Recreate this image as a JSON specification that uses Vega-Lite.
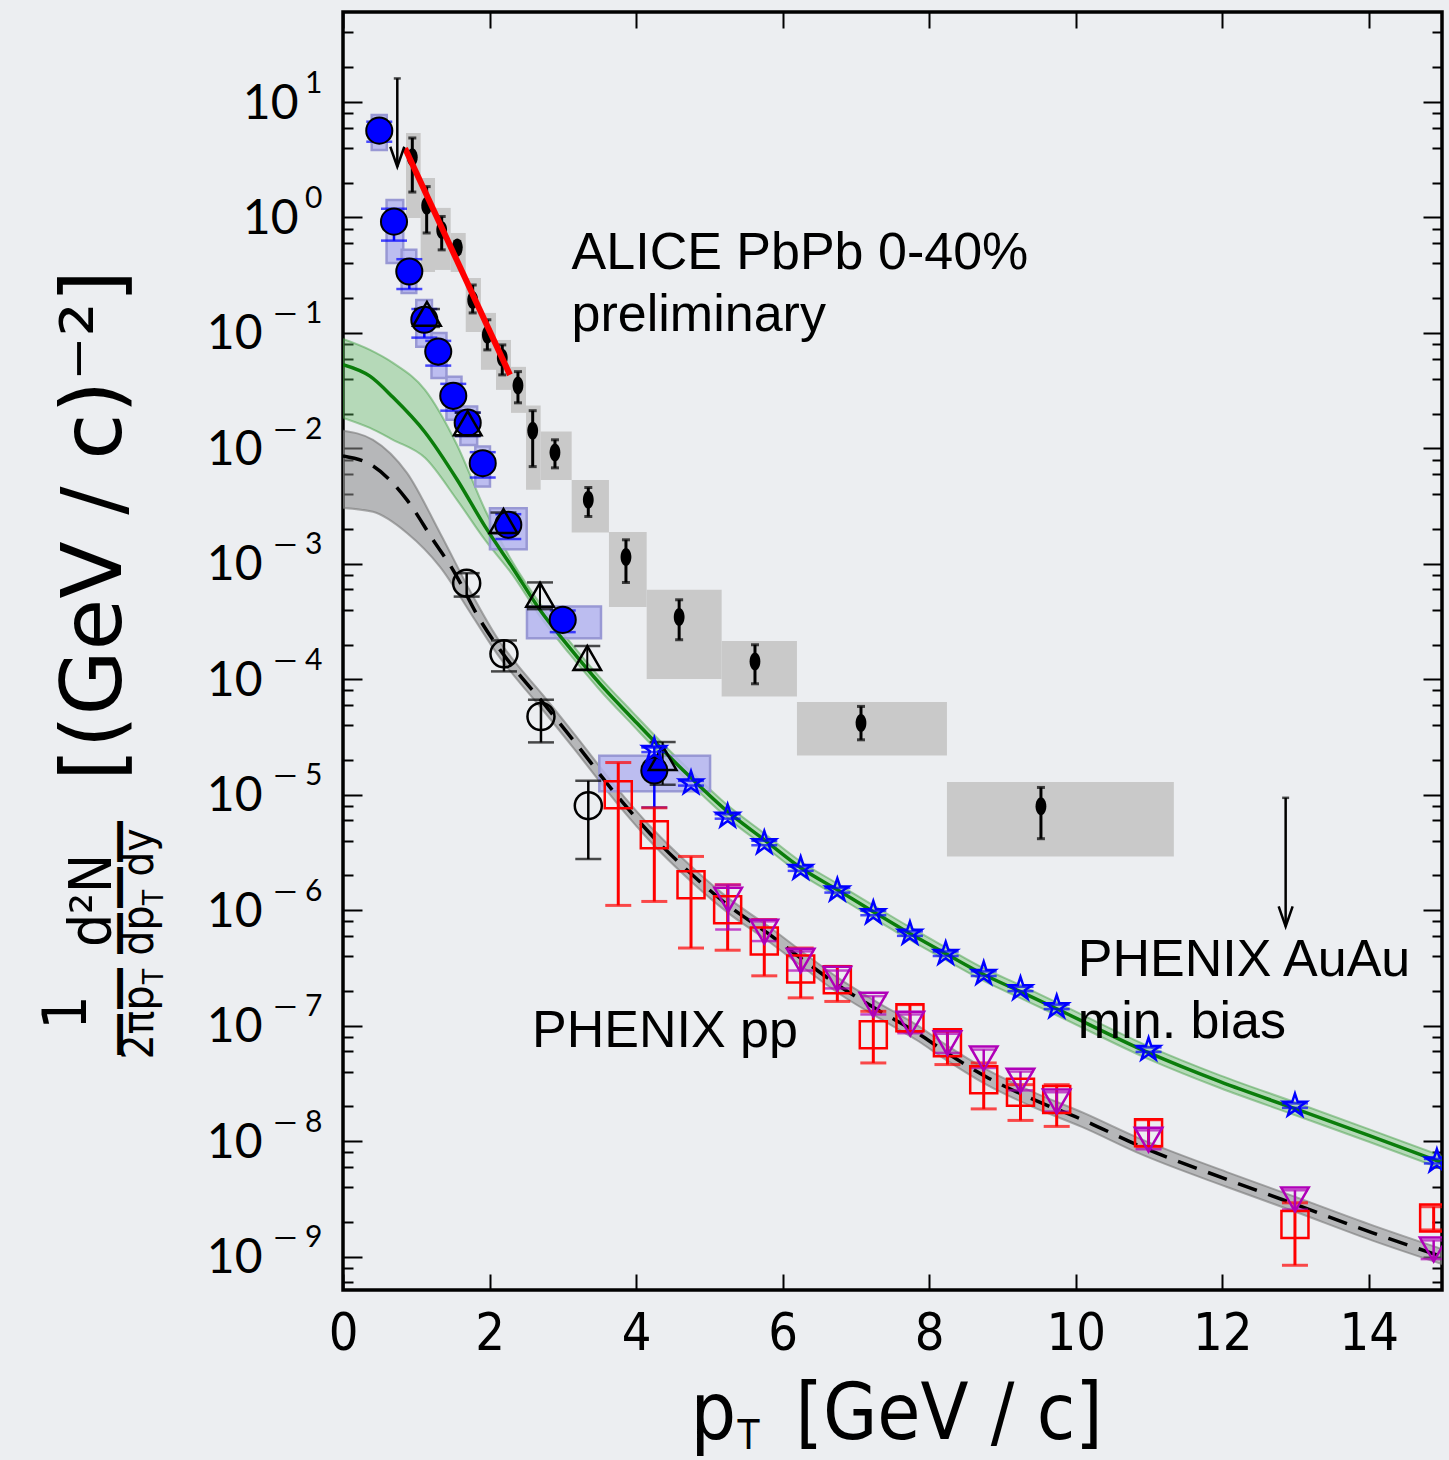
{
"$schema": "https://vega.github.io/schema/vega-lite/v6.json",
"width": 1099, "height": 1278,
"autosize": {"type": "none"},
"padding": {"left": 343, "top": 12, "right": 7, "bottom": 170},
"background": "#eceef1",
"config": {"view": {"stroke": "black", "strokeWidth": 3.5}, "axis": {"grid": false}},
"resolve": {"axis": {"x": "independent", "y": "independent"}},
"datasets": {
"aliceBox": [
{"x":0.86,"x2":1.06,"y":5.4,"y2":0.99},{"x":1.06,"x2":1.256,"y":2.2,"y2":0.337},{"x":1.256,"x2":1.47,"y":1.21,"y2":0.351},{"x":1.47,"x2":1.675,"y":0.734,"y2":0.337},{"x":1.675,"x2":1.883,"y":0.299,"y2":0.102},{"x":1.883,"x2":2.088,"y":0.149,"y2":0.0479},{"x":2.088,"x2":2.293,"y":0.0869,"y2":0.0321},{"x":2.293,"x2":2.498,"y":0.0508,"y2":0.0203},{"x":2.498,"x2":2.698,"y":0.0235,"y2":0.00438},{"x":2.698,"x2":3.121,"y":0.01397,"y2":0.00533},{"x":3.121,"x2":3.63,"y":0.00533,"y2":0.001866},{"x":3.63,"x2":4.145,"y":0.001883,"y2":0.000422},{"x":4.145,"x2":5.168,"y":0.000596,"y2":0.0001005},{"x":5.168,"x2":6.196,"y":0.000215,"y2":0.000071},{"x":6.196,"x2":8.243,"y":0.0000635,"y2":0.0000219},{"x":8.243,"x2":11.34,"y":0.0000129,"y2":0.00000292}],
"alice": [
{"x":0.946,"y":3.32,"lo":1.66,"hi":4.88},{"x":1.142,"y":1.26,"lo":0.734,"hi":1.85},{"x":1.347,"y":0.78,"lo":0.524,"hi":1.02},{"x":1.56,"y":0.548,"lo":0.49,"hi":0.62},{"x":1.77,"y":0.193,"lo":0.149,"hi":0.26},{"x":1.97,"y":0.0962,"lo":0.0713,"hi":0.13},{"x":2.174,"y":0.0608,"lo":0.0433,"hi":0.0787},{"x":2.388,"y":0.0351,"lo":0.0248,"hi":0.0462},{"x":2.589,"y":0.0142,"lo":0.00695,"hi":0.0212},{"x":2.893,"y":0.0092,"lo":0.00678,"hi":0.01186},{"x":3.348,"y":0.00358,"lo":0.00257,"hi":0.00458},{"x":3.862,"y":0.001143,"lo":0.000689,"hi":0.001614},{"x":4.588,"y":0.000346,"lo":0.00022,"hi":0.000488},{"x":5.623,"y":0.0001426,"lo":0.0000914,"hi":0.000199},{"x":7.07,"y":0.0000418,"lo":0.0000299,"hi":0.0000582},{"x":9.526,"y":0.00000793,"lo":0.00000416,"hi":0.00001156}],
"blueBox": [
{"x":0.392,"x2":0.597,"y":7.71,"y2":3.84},{"x":0.595,"x2":0.822,"y":1.42,"y2":0.404},{"x":0.8,"x2":1.0,"y":0.524,"y2":0.222},{"x":1.0,"x2":1.214,"y":0.193,"y2":0.076},{"x":1.208,"x2":1.412,"y":0.1,"y2":0.0407},{"x":1.412,"x2":1.617,"y":0.0418,"y2":0.0177},{"x":1.603,"x2":1.831,"y":0.023,"y2":0.0107},{"x":1.806,"x2":2.006,"y":0.01037,"y2":0.00467},{"x":2.006,"x2":2.507,"y":0.00303,"y2":0.00134},{"x":2.511,"x2":3.521,"y":0.000427,"y2":0.000227},{"x":3.498,"x2":5.01,"y":0.0000218,"y2":0.0000107}],
"blue": [
{"x":0.495,"y":5.65,"lo":4.53,"hi":6.75},{"x":0.696,"y":0.92,"lo":0.63,"hi":1.19},{"x":0.905,"y":0.34,"lo":0.24,"hi":0.435},{"x":1.11,"y":0.13,"lo":0.091,"hi":0.161},{"x":1.3,"y":0.0689,"lo":0.0521,"hi":0.0853},{"x":1.505,"y":0.0285,"lo":0.0212,"hi":0.0362},{"x":1.702,"y":0.0167,"lo":0.0128,"hi":0.0204},{"x":1.907,"y":0.00744,"lo":0.00559,"hi":0.00927},{"x":2.256,"y":0.00218,"lo":0.00164,"hi":0.00269},{"x":2.999,"y":0.000327,"lo":0.000256,"hi":0.000394},{"x":4.249,"y":0.0000162,"lo":0.00000776,"hi":0.0000262}],
"tri": [
{"x":1.146,"y":0.146,"lo":0.1127,"hi":0.161},{"x":1.702,"y":0.0165,"lo":0.0128,"hi":0.0204},{"x":2.19,"y":0.00235,"lo":0.001845,"hi":0.00278},{"x":2.689,"y":0.00054,"lo":0.000405,"hi":0.00069},{"x":3.334,"y":0.000153,"lo":0.000121,"hi":0.000194},{"x":4.363,"y":0.0000208,"lo":0.0000122,"hi":0.0000286}],
"ocirc": [
{"x":1.688,"y":0.00068,"lo":0.00052,"hi":0.00083},{"x":2.197,"y":0.000166,"lo":0.000117,"hi":0.000217},{"x":2.702,"y":0.0000476,"lo":0.0000284,"hi":0.0000665},{"x":3.348,"y":0.00000804,"lo":0.00000277,"hi":0.0000132}],
"sq": [
{"x":3.757,"y":1.0e-5,"lo":1.1e-6,"hi":1.9e-5},{"x":4.249,"y":4.5e-6,"lo":1.19e-6,"hi":7.7e-6},{"x":4.75,"y":1.66e-6,"lo":4.7e-7,"hi":2.92e-6},{"x":5.25,"y":1.01e-6,"lo":4.5e-7,"hi":1.66e-6},{"x":5.75,"y":5.4e-7,"lo":2.7e-7,"hi":8.3e-7},{"x":6.247,"y":3.1e-7,"lo":1.74e-7,"hi":4.7e-7},{"x":6.747,"y":2.5e-7,"lo":1.62e-7,"hi":3.26e-7},{"x":7.238,"y":8.35e-8,"lo":4.75e-8,"hi":1.33e-7},{"x":7.738,"y":1.17e-7,"lo":8.9e-8,"hi":1.52e-7},{"x":8.25,"y":7.1e-8,"lo":4.6e-8,"hi":8.9e-8},{"x":8.745,"y":3.4e-8,"lo":1.9e-8,"hi":4.75e-8},{"x":9.247,"y":2.65e-8,"lo":1.51e-8,"hi":3.08e-8},{"x":9.741,"y":2.29e-8,"lo":1.34e-8,"hi":3.08e-8},{"x":10.995,"y":1.18e-8,"lo":9.0e-9,"hi":1.53e-8},{"x":12.993,"y":1.89e-9,"lo":8.4e-10,"hi":2.92e-9},{"x":14.886,"y":2.16e-9,"lo":1.7e-9,"hi":2.7e-9}],
"mag": [
{"x":5.257,"y":1.23e-6,"lo":6.8e-7,"hi":1.66e-6},{"x":5.75,"y":6.5e-7,"lo":5.4e-7,"hi":8.0e-7},{"x":6.247,"y":3.66e-7,"lo":3.0e-7,"hi":4.4e-7},{"x":6.747,"y":2.55e-7,"lo":2.1e-7,"hi":3.0e-7},{"x":7.238,"y":1.52e-7,"lo":1.25e-7,"hi":1.8e-7},{"x":7.743,"y":1.04e-7,"lo":8.6e-8,"hi":1.25e-7},{"x":8.25,"y":7.05e-8,"lo":5.8e-8,"hi":8.5e-8},{"x":8.745,"y":5.2e-8,"lo":4.3e-8,"hi":6.2e-8},{"x":9.247,"y":3.34e-8,"lo":2.75e-8,"hi":4.0e-8},{"x":9.741,"y":2.2e-8,"lo":1.8e-8,"hi":2.65e-8},{"x":10.995,"y":1.03e-8,"lo":8.5e-9,"hi":1.24e-8},{"x":12.993,"y":3.12e-9,"lo":2.55e-9,"hi":3.75e-9},{"x":14.886,"y":1.15e-9,"lo":9.5e-10,"hi":1.38e-9}],
"star": [
{"x":4.249,"y":2.45e-5,"lo":2.34e-5,"hi":2.56e-5},{"x":4.75,"y":1.26e-5,"lo":1.2e-5,"hi":1.32e-5},{"x":5.25,"y":6.49e-6,"lo":6.2e-6,"hi":6.78e-6},{"x":5.75,"y":3.82e-6,"lo":3.65e-6,"hi":3.99e-6},{"x":6.247,"y":2.29e-6,"lo":2.19e-6,"hi":2.39e-6},{"x":6.747,"y":1.49e-6,"lo":1.42e-6,"hi":1.56e-6},{"x":7.238,"y":9.46e-7,"lo":9.04e-7,"hi":9.88e-7},{"x":7.738,"y":6.27e-7,"lo":5.99e-7,"hi":6.55e-7},{"x":8.226,"y":4.2e-7,"lo":4.01e-7,"hi":4.39e-7},{"x":8.745,"y":2.82e-7,"lo":2.69e-7,"hi":2.95e-7},{"x":9.247,"y":2.08e-7,"lo":1.99e-7,"hi":2.17e-7},{"x":9.741,"y":1.45e-7,"lo":1.39e-7,"hi":1.52e-7},{"x":10.995,"y":6.2e-8,"lo":5.92e-8,"hi":6.48e-8},{"x":12.993,"y":2.03e-8,"lo":1.94e-8,"hi":2.12e-8},{"x":14.93,"y":6.7e-9,"lo":6.4e-9,"hi":7.0e-9}],
"green": [
{"x":0,"y":0.0531},{"x":0.368,"y":0.0422},{"x":0.682,"y":0.02767},{"x":1.119,"y":0.0138},{"x":1.556,"y":0.00537},{"x":1.938,"y":0.00211},{"x":2.32,"y":0.000912},{"x":2.689,"y":0.000398},{"x":3.098,"y":0.000186},{"x":3.508,"y":0.0000912},{"x":3.958,"y":0.0000453},{"x":4.422,"y":0.0000224},{"x":4.75,"y":0.000014},{"x":5.25,"y":7.13e-6},{"x":5.75,"y":4.07e-6},{"x":6.247,"y":2.33e-6},{"x":6.747,"y":1.5e-6},{"x":7.238,"y":9.7e-7},{"x":7.738,"y":6.27e-7},{"x":8.25,"y":4.12e-7},{"x":8.745,"y":2.77e-7},{"x":9.247,"y":1.97e-7},{"x":9.741,"y":1.4e-7},{"x":10.995,"y":5.83e-8},{"x":11.97,"y":3.27e-8},{"x":12.993,"y":1.91e-8},{"x":14.0,"y":1.12e-8},{"x":15,"y":6.52e-9}],
"greenBand": [
{"x":0,"lo":0.01837,"hi":0.0887},{"x":0.368,"lo":0.01503,"hi":0.0713},{"x":0.682,"lo":0.01186,"hi":0.055},{"x":1.119,"lo":0.00828,"hi":0.0321},{"x":1.556,"lo":0.00358,"hi":0.0107},{"x":1.938,"lo":0.00161,"hi":0.00294},{"x":2.32,"lo":0.000794,"hi":0.00102},{"x":2.689,"lo":0.00035,"hi":0.000452},{"x":3.098,"lo":0.000164,"hi":0.000211},{"x":3.508,"lo":0.0000803,"hi":0.0001035},{"x":3.958,"lo":0.0000399,"hi":0.0000514},{"x":4.422,"lo":0.0000197,"hi":0.0000254},{"x":4.75,"lo":0.00001232,"hi":0.0000159},{"x":5.25,"lo":6.27e-6,"hi":8.09e-6},{"x":5.75,"lo":3.58e-6,"hi":4.62e-6},{"x":6.247,"lo":2.05e-6,"hi":2.64e-6},{"x":6.747,"lo":1.32e-6,"hi":1.7e-6},{"x":7.238,"lo":8.54e-7,"hi":1.1e-6},{"x":7.738,"lo":5.52e-7,"hi":7.12e-7},{"x":8.25,"lo":3.63e-7,"hi":4.68e-7},{"x":8.745,"lo":2.44e-7,"hi":3.14e-7},{"x":9.247,"lo":1.73e-7,"hi":2.24e-7},{"x":9.741,"lo":1.23e-7,"hi":1.59e-7},{"x":10.995,"lo":5.13e-8,"hi":6.62e-8},{"x":11.97,"lo":2.88e-8,"hi":3.71e-8},{"x":12.993,"lo":1.68e-8,"hi":2.17e-8},{"x":14.0,"lo":9.86e-9,"hi":1.27e-8},{"x":15,"lo":5.74e-9,"hi":7.4e-9}],
"grey": [
{"x":0,"y":0.00861},{"x":0.409,"y":0.00705},{"x":0.873,"y":0.00358},{"x":1.228,"y":0.001614},{"x":1.501,"y":0.000887},{"x":1.87,"y":0.000327},{"x":2.143,"y":0.00018},{"x":2.32,"y":0.000128},{"x":2.73,"y":0.0000627},{"x":3.139,"y":0.0000299},{"x":3.74,"y":9.8e-6},{"x":4.231,"y":4.33e-6},{"x":4.736,"y":2.11e-6},{"x":5.282,"y":1.07e-6},{"x":5.787,"y":6.38e-7},{"x":6.278,"y":3.72e-7},{"x":6.783,"y":2.18e-7},{"x":7.288,"y":1.38e-7},{"x":7.834,"y":8.69e-8},{"x":8.216,"y":5.96e-8},{"x":8.776,"y":3.61e-8},{"x":9.39,"y":2.34e-8},{"x":10.093,"y":1.53e-8},{"x":10.891,"y":8.95e-9},{"x":12.065,"y":4.65e-9},{"x":13.007,"y":2.82e-9},{"x":14.044,"y":1.61e-9},{"x":15,"y":1.0e-9}],
"greyBand": [
{"x":0,"lo":0.00305,"hi":0.0142},{"x":0.409,"lo":0.00282,"hi":0.01186},{"x":0.873,"lo":0.00185,"hi":0.00613},{"x":1.324,"lo":0.000942,"hi":0.00185},{"x":1.774,"lo":0.000347,"hi":0.000525},{"x":2.143,"lo":0.000153,"hi":0.00021},{"x":2.32,"lo":0.00011,"hi":0.0001485},{"x":2.73,"lo":0.0000539,"hi":0.0000727},{"x":3.139,"lo":0.0000257,"hi":0.0000347},{"x":3.74,"lo":8.43e-6,"hi":0.00001137},{"x":4.231,"lo":3.72e-6,"hi":5.02e-6},{"x":4.736,"lo":1.81e-6,"hi":2.45e-6},{"x":5.282,"lo":9.2e-7,"hi":1.24e-6},{"x":5.787,"lo":5.49e-7,"hi":7.4e-7},{"x":6.278,"lo":3.2e-7,"hi":4.32e-7},{"x":6.783,"lo":1.87e-7,"hi":2.53e-7},{"x":7.288,"lo":1.19e-7,"hi":1.6e-7},{"x":7.834,"lo":7.47e-8,"hi":1.01e-7},{"x":8.216,"lo":5.13e-8,"hi":6.91e-8},{"x":8.776,"lo":3.1e-8,"hi":4.19e-8},{"x":9.39,"lo":2.01e-8,"hi":2.71e-8},{"x":10.093,"lo":1.32e-8,"hi":1.77e-8},{"x":10.891,"lo":7.7e-9,"hi":1.04e-8},{"x":12.065,"lo":4.0e-9,"hi":5.39e-9},{"x":13.007,"lo":2.43e-9,"hi":3.27e-9},{"x":14.044,"lo":1.38e-9,"hi":1.87e-9},{"x":15,"lo":8.6e-10,"hi":1.16e-9}],
"redline": [{"x":0.846,"y":3.97},{"x":2.279,"y":0.0433}],
"arrows": [{"x":0.741,"top":16.0,"tip":2.75},{"x":12.866,"top":9.4e-6,"tip":7.24e-7}],
"labels": [{"x":3.12,"y":0.493,"t":"ALICE PbPb 0-40%"},{"x":3.12,"y":0.143,"t":"preliminary"},{"x":2.58,"y":8.9e-8,"t":"PHENIX pp"},{"x":10.03,"y":3.72e-7,"t":"PHENIX AuAu"},{"x":10.03,"y":1.08e-7,"t":"min. bias"}]
},
"layer": [
{"data":{"name":"aliceBox"},"mark":{"type":"rect","color":"#c9c9c9","clip":true},
 "encoding":{"x":{"field":"x","type":"quantitative","scale":{"domain":[0,15],"nice":false,"zero":false},"axis":null},"x2":{"field":"x2"},
 "y":{"field":"y","type":"quantitative","scale":{"type":"log","domain":[5.13e-10,60.2],"nice":false},"axis":null},"y2":{"field":"y2"}}},
{"data":{"name":"greyBand"},"mark":{"type":"area","fill":"#8a8a8a","fillOpacity":0.55,"stroke":"#777777","strokeOpacity":0.6,"strokeWidth":2,"interpolate":"monotone","clip":true},
 "encoding":{"x":{"field":"x","type":"quantitative","scale":{"domain":[0,15],"nice":false,"zero":false},"axis":null},
 "y":{"field":"lo","type":"quantitative","scale":{"type":"log","domain":[5.13e-10,60.2],"nice":false},"axis":null},"y2":{"field":"hi"}}},
{"data":{"name":"greenBand"},"mark":{"type":"area","fill":"#5cb85c","fillOpacity":0.38,"stroke":"#3a9a3a","strokeOpacity":0.45,"strokeWidth":2,"interpolate":"monotone","clip":true},
 "encoding":{"x":{"field":"x","type":"quantitative","scale":{"domain":[0,15],"nice":false,"zero":false},"axis":null},
 "y":{"field":"lo","type":"quantitative","scale":{"type":"log","domain":[5.13e-10,60.2],"nice":false},"axis":null},"y2":{"field":"hi"}}},
{"data":{"name":"blueBox"},"mark":{"type":"rect","fill":"#b4b4f0","fillOpacity":0.85,"stroke":"#9898d4","strokeWidth":2.5,"clip":true},
 "encoding":{"x":{"field":"x","type":"quantitative","scale":{"domain":[0,15],"nice":false,"zero":false},"axis":null},"x2":{"field":"x2"},
 "y":{"field":"y","type":"quantitative","scale":{"type":"log","domain":[5.13e-10,60.2],"nice":false},"axis":null},"y2":{"field":"y2"}}},
{"data":{"name":"green"},"mark":{"type":"line","color":"#0b7d0b","strokeWidth":3.5,"interpolate":"monotone","clip":true},
 "encoding":{"x":{"field":"x","type":"quantitative","scale":{"domain":[0,15],"nice":false,"zero":false},"axis":null},
 "y":{"field":"y","type":"quantitative","scale":{"type":"log","domain":[5.13e-10,60.2],"nice":false},"axis":null}}},
{"data":{"name":"grey"},"mark":{"type":"line","color":"black","strokeWidth":3.5,"strokeDash":[20,12],"interpolate":"monotone","clip":true},
 "encoding":{"x":{"field":"x","type":"quantitative","scale":{"domain":[0,15],"nice":false,"zero":false},"axis":null},
 "y":{"field":"y","type":"quantitative","scale":{"type":"log","domain":[5.13e-10,60.2],"nice":false},"axis":null}}},

{"data":{"name":"alice"},"mark":{"type":"rule","color":"black","strokeWidth":3,"clip":true},
 "encoding":{"x":{"field":"x","type":"quantitative","scale":{"domain":[0,15],"nice":false,"zero":false},"axis":null},
 "y":{"field":"lo","type":"quantitative","scale":{"type":"log","domain":[5.13e-10,60.2],"nice":false},"axis":null},"y2":{"field":"hi"}}},
{"data":{"name":"alice"},"transform":[{"fold":["lo","hi"],"as":["k","v"]}],"mark":{"type":"tick","orient":"horizontal","color":"black","size":8,"thickness":3,"clip":true},
 "encoding":{"x":{"field":"x","type":"quantitative","scale":{"domain":[0,15],"nice":false,"zero":false},"axis":null},
 "y":{"field":"v","type":"quantitative","scale":{"type":"log","domain":[5.13e-10,60.2],"nice":false},"axis":null}}},
{"data":{"name":"alice"},"mark":{"type":"point","shape":"M0,-1A0.6,1 0 1,1 0,1A0.6,1 0 1,1 0,-1Z","filled":true,"color":"black","opacity":1,"size":324,"clip":true},
 "encoding":{"x":{"field":"x","type":"quantitative","scale":{"domain":[0,15],"nice":false,"zero":false},"axis":null},
 "y":{"field":"y","type":"quantitative","scale":{"type":"log","domain":[5.13e-10,60.2],"nice":false},"axis":null}}},

{"data":{"name":"blue"},"mark":{"type":"rule","color":"#0000ff","strokeWidth":2.5,"clip":true},
 "encoding":{"x":{"field":"x","type":"quantitative","scale":{"domain":[0,15],"nice":false,"zero":false},"axis":null},
 "y":{"field":"lo","type":"quantitative","scale":{"type":"log","domain":[5.13e-10,60.2],"nice":false},"axis":null},"y2":{"field":"hi"}}},
{"data":{"name":"blue"},"transform":[{"fold":["lo","hi"],"as":["k","v"]}],"mark":{"type":"tick","orient":"horizontal","color":"#0000ff","size":26,"thickness":2.5,"clip":true},
 "encoding":{"x":{"field":"x","type":"quantitative","scale":{"domain":[0,15],"nice":false,"zero":false},"axis":null},
 "y":{"field":"v","type":"quantitative","scale":{"type":"log","domain":[5.13e-10,60.2],"nice":false},"axis":null}}},

{"data":{"name":"tri"},"mark":{"type":"rule","color":"black","strokeWidth":2,"clip":true},
 "encoding":{"x":{"field":"x","type":"quantitative","scale":{"domain":[0,15],"nice":false,"zero":false},"axis":null},
 "y":{"field":"lo","type":"quantitative","scale":{"type":"log","domain":[5.13e-10,60.2],"nice":false},"axis":null},"y2":{"field":"hi"}}},
{"data":{"name":"tri"},"transform":[{"fold":["lo","hi"],"as":["k","v"]}],"mark":{"type":"tick","orient":"horizontal","color":"black","size":26,"thickness":2.5,"clip":true},
 "encoding":{"x":{"field":"x","type":"quantitative","scale":{"domain":[0,15],"nice":false,"zero":false},"axis":null},
 "y":{"field":"v","type":"quantitative","scale":{"type":"log","domain":[5.13e-10,60.2],"nice":false},"axis":null}}},

{"data":{"name":"ocirc"},"mark":{"type":"rule","color":"black","strokeWidth":2.5,"clip":true},
 "encoding":{"x":{"field":"x","type":"quantitative","scale":{"domain":[0,15],"nice":false,"zero":false},"axis":null},
 "y":{"field":"lo","type":"quantitative","scale":{"type":"log","domain":[5.13e-10,60.2],"nice":false},"axis":null},"y2":{"field":"hi"}}},
{"data":{"name":"ocirc"},"transform":[{"fold":["lo","hi"],"as":["k","v"]}],"mark":{"type":"tick","orient":"horizontal","color":"black","size":26,"thickness":2.5,"clip":true},
 "encoding":{"x":{"field":"x","type":"quantitative","scale":{"domain":[0,15],"nice":false,"zero":false},"axis":null},
 "y":{"field":"v","type":"quantitative","scale":{"type":"log","domain":[5.13e-10,60.2],"nice":false},"axis":null}}},

{"data":{"name":"sq"},"mark":{"type":"rule","color":"#ff0000","strokeWidth":3,"clip":true},
 "encoding":{"x":{"field":"x","type":"quantitative","scale":{"domain":[0,15],"nice":false,"zero":false},"axis":null},
 "y":{"field":"lo","type":"quantitative","scale":{"type":"log","domain":[5.13e-10,60.2],"nice":false},"axis":null},"y2":{"field":"hi"}}},
{"data":{"name":"sq"},"transform":[{"fold":["lo","hi"],"as":["k","v"]}],"mark":{"type":"tick","orient":"horizontal","color":"#ff0000","size":26,"thickness":3,"clip":true},
 "encoding":{"x":{"field":"x","type":"quantitative","scale":{"domain":[0,15],"nice":false,"zero":false},"axis":null},
 "y":{"field":"v","type":"quantitative","scale":{"type":"log","domain":[5.13e-10,60.2],"nice":false},"axis":null}}},

{"data":{"name":"mag"},"mark":{"type":"rule","color":"#b000b8","strokeWidth":2.5,"clip":true},
 "encoding":{"x":{"field":"x","type":"quantitative","scale":{"domain":[0,15],"nice":false,"zero":false},"axis":null},
 "y":{"field":"lo","type":"quantitative","scale":{"type":"log","domain":[5.13e-10,60.2],"nice":false},"axis":null},"y2":{"field":"hi"}}},
{"data":{"name":"mag"},"transform":[{"fold":["lo","hi"],"as":["k","v"]}],"mark":{"type":"tick","orient":"horizontal","color":"#b000b8","size":26,"thickness":2.5,"clip":true},
 "encoding":{"x":{"field":"x","type":"quantitative","scale":{"domain":[0,15],"nice":false,"zero":false},"axis":null},
 "y":{"field":"v","type":"quantitative","scale":{"type":"log","domain":[5.13e-10,60.2],"nice":false},"axis":null}}},

{"data":{"name":"star"},"transform":[{"fold":["lo","hi"],"as":["k","v"]}],"mark":{"type":"tick","orient":"horizontal","color":"#0000ff","size":26,"thickness":2.5,"clip":true},
 "encoding":{"x":{"field":"x","type":"quantitative","scale":{"domain":[0,15],"nice":false,"zero":false},"axis":null},
 "y":{"field":"v","type":"quantitative","scale":{"type":"log","domain":[5.13e-10,60.2],"nice":false},"axis":null}}},

{"data":{"name":"blue"},"mark":{"type":"point","shape":"circle","filled":true,"fill":"#0000ff","stroke":"black","strokeWidth":2,"opacity":1,"size":680,"clip":true},
 "encoding":{"x":{"field":"x","type":"quantitative","scale":{"domain":[0,15],"nice":false,"zero":false},"axis":null},
 "y":{"field":"y","type":"quantitative","scale":{"type":"log","domain":[5.13e-10,60.2],"nice":false},"axis":null}}},
{"data":{"name":"tri"},"mark":{"type":"point","shape":"triangle-up","filled":false,"stroke":"black","strokeWidth":2.5,"opacity":1,"size":760,"clip":true},
 "encoding":{"x":{"field":"x","type":"quantitative","scale":{"domain":[0,15],"nice":false,"zero":false},"axis":null},
 "y":{"field":"y","type":"quantitative","scale":{"type":"log","domain":[5.13e-10,60.2],"nice":false},"axis":null}}},
{"data":{"name":"ocirc"},"mark":{"type":"point","shape":"circle","filled":false,"stroke":"black","strokeWidth":2.5,"opacity":1,"size":730,"clip":true},
 "encoding":{"x":{"field":"x","type":"quantitative","scale":{"domain":[0,15],"nice":false,"zero":false},"axis":null},
 "y":{"field":"y","type":"quantitative","scale":{"type":"log","domain":[5.13e-10,60.2],"nice":false},"axis":null}}},
{"data":{"name":"sq"},"mark":{"type":"point","shape":"square","filled":false,"stroke":"#ff0000","strokeWidth":2.5,"opacity":1,"size":730,"clip":true},
 "encoding":{"x":{"field":"x","type":"quantitative","scale":{"domain":[0,15],"nice":false,"zero":false},"axis":null},
 "y":{"field":"y","type":"quantitative","scale":{"type":"log","domain":[5.13e-10,60.2],"nice":false},"axis":null}}},
{"data":{"name":"mag"},"mark":{"type":"point","shape":"triangle-down","filled":false,"stroke":"#b000b8","strokeWidth":2.5,"opacity":1,"size":760,"clip":true},
 "encoding":{"x":{"field":"x","type":"quantitative","scale":{"domain":[0,15],"nice":false,"zero":false},"axis":null},
 "y":{"field":"y","type":"quantitative","scale":{"type":"log","domain":[5.13e-10,60.2],"nice":false},"axis":null}}},
{"data":{"name":"star"},"mark":{"type":"point","shape":"M0,-1L0.2245,-0.309L0.951,-0.309L0.363,0.118L0.588,0.809L0,0.382L-0.588,0.809L-0.363,0.118L-0.951,-0.309L-0.2245,-0.309Z","filled":false,"stroke":"#0000ff","strokeWidth":2.5,"opacity":1,"size":576,"clip":true},
 "encoding":{"x":{"field":"x","type":"quantitative","scale":{"domain":[0,15],"nice":false,"zero":false},"axis":null},
 "y":{"field":"y","type":"quantitative","scale":{"type":"log","domain":[5.13e-10,60.2],"nice":false},"axis":null}}},

{"data":{"name":"redline"},"mark":{"type":"line","color":"#ff0000","strokeWidth":6,"clip":true},
 "encoding":{"x":{"field":"x","type":"quantitative","scale":{"domain":[0,15],"nice":false,"zero":false},"axis":null},
 "y":{"field":"y","type":"quantitative","scale":{"type":"log","domain":[5.13e-10,60.2],"nice":false},"axis":null}}},

{"data":{"name":"arrows"},"mark":{"type":"rule","color":"black","strokeWidth":2.5},
 "encoding":{"x":{"field":"x","type":"quantitative","scale":{"domain":[0,15],"nice":false,"zero":false},"axis":null},
 "y":{"field":"top","type":"quantitative","scale":{"type":"log","domain":[5.13e-10,60.2],"nice":false},"axis":null},"y2":{"field":"tip"}}},
{"data":{"name":"arrows"},"mark":{"type":"tick","orient":"horizontal","color":"black","size":7,"thickness":2.5},
 "encoding":{"x":{"field":"x","type":"quantitative","scale":{"domain":[0,15],"nice":false,"zero":false},"axis":null},
 "y":{"field":"top","type":"quantitative","scale":{"type":"log","domain":[5.13e-10,60.2],"nice":false},"axis":null}}},
{"data":{"name":"arrows"},"mark":{"type":"point","shape":"M-0.35,-1L0,0L0.35,-1","filled":false,"stroke":"black","strokeWidth":2.5,"opacity":1,"size":1600},
 "encoding":{"x":{"field":"x","type":"quantitative","scale":{"domain":[0,15],"nice":false,"zero":false},"axis":null},
 "y":{"field":"tip","type":"quantitative","scale":{"type":"log","domain":[5.13e-10,60.2],"nice":false},"axis":null}}},

{"data":{"name":"labels"},"mark":{"type":"text","align":"left","baseline":"middle","font":"Liberation Sans","fontSize":52,"color":"black"},
 "encoding":{"x":{"field":"x","type":"quantitative","scale":{"domain":[0,15],"nice":false,"zero":false},"axis":null},
 "y":{"field":"y","type":"quantitative","scale":{"type":"log","domain":[5.13e-10,60.2],"nice":false},"axis":null},"text":{"field":"t"}}},

{"data":{"name":"redline"},"mark":{"type":"point","opacity":0},
 "encoding":{"x":{"field":"x","type":"quantitative","scale":{"domain":[0,15],"nice":false,"zero":false},
   "axis":{"orient":"bottom","values":[0,2,4,6,8,10,12,14],"format":"d","ticks":false,"tickSize":0,"domain":false,"grid":false,"labelFont":"DejaVu Sans Condensed","labelFontSize":52,"labelColor":"black","labelPadding":18,"labelFlush":false,"labelOverlap":false,
   "title":"[GeV / c]","titleFont":"DejaVu Sans Condensed","titleFontSize":78,"titleFontWeight":"normal","titleColor":"black","titleAngle":0,"titleAlign":"left","titleBaseline":"alphabetic","titleX":452,"titleY":148}},
 "y":{"field":"y","type":"quantitative","scale":{"type":"log","domain":[5.13e-10,60.2],"nice":false},
   "axis":{"orient":"left","values":[1e-9,1e-8,1e-7,1e-6,1e-5,1e-4,0.001,0.01,0.1,1,10],"labelExpr":"'10'","ticks":false,"tickSize":0,"domain":false,"grid":false,"labelFont":"Lato","labelFontSize":48,"labelColor":"black","labelAlign":"right","labelBaseline":"middle","labelOffset":2,"labelPadding":{"condition":{"test":"datum.value >= 1","value":45},"value":81},"labelFlush":false,"labelOverlap":false,"title":null}}}},

{"data":{"name":"redline"},"mark":{"type":"point","opacity":0},
 "encoding":{"x":{"field":"x","type":"quantitative","scale":{"domain":[0,15],"nice":false,"zero":false},
   "axis":{"orient":"bottom","values":[0,2,4,6,8,10,12,14],"labels":false,"ticks":true,"tickSize":-16,"tickWidth":2,"tickColor":"black","domain":false,"grid":false,
   "title":"p","titleFont":"DejaVu Sans Condensed","titleFontSize":80,"titleFontWeight":"normal","titleColor":"black","titleAngle":0,"titleAlign":"left","titleBaseline":"alphabetic","titleX":347,"titleY":148}},
 "y":{"field":"y","type":"quantitative","scale":{"type":"log","domain":[5.13e-10,60.2],"nice":false},
   "axis":{"orient":"left","values":[1e-9,1e-8,1e-7,1e-6,1e-5,1e-4,0.001,0.01,0.1,1,10],"labelExpr":"(datum.value < 1 ? '— ' : '') + abs(round(log(datum.value)/LN10))","ticks":false,"tickSize":0,"domain":false,"grid":false,"labelFont":"Lato","labelFontSize":30,"labelColor":"black","labelAlign":"right","labelBaseline":"middle","labelOffset":-19,"labelPadding":21,"labelFlush":false,"labelOverlap":false,"title":null}}}},

{"data":{"name":"redline"},"mark":{"type":"point","opacity":0},
 "encoding":{"x":{"field":"x","type":"quantitative","scale":{"domain":[0,15],"nice":false,"zero":false},
   "axis":{"orient":"top","values":[0,2,4,6,8,10,12,14],"labels":false,"ticks":true,"tickSize":-16,"tickWidth":2,"tickColor":"black","domain":false,"grid":false,"title":null}},
 "y":{"field":"y","type":"quantitative","scale":{"type":"log","domain":[5.13e-10,60.2],"nice":false},
   "axis":{"orient":"left","values":[6e-10,8e-10,1e-9,2e-9,4e-9,6e-9,8e-9,1e-8,2e-8,4e-8,6e-8,8e-8,1e-7,2e-7,4e-7,6e-7,8e-7,1e-6,2e-6,4e-6,6e-6,8e-6,1e-5,2e-5,4e-5,6e-5,8e-5,1e-4,2e-4,4e-4,6e-4,8e-4,0.001,0.002,0.004,0.006,0.008,0.01,0.02,0.04,0.06,0.08,0.1,0.2,0.4,0.6,0.8,1,2,4,6,8,10,20,40],
   "labels":false,"ticks":true,"tickSize":{"condition":{"test":"abs(log(datum.value)/LN10 - round(log(datum.value)/LN10)) < 0.01","value":-19},"value":-10},"tickWidth":2,"tickColor":"black","domain":false,"grid":false,"title":null}}}},

{"data":{"name":"redline"},"mark":{"type":"point","opacity":0},
 "encoding":{"x":{"field":"x","type":"quantitative","scale":{"domain":[0,15],"nice":false,"zero":false},
   "axis":{"orient":"bottom","labels":false,"ticks":false,"domain":false,"grid":false,
   "title":"T","titleFont":"DejaVu Sans Condensed","titleFontSize":40,"titleFontWeight":"normal","titleColor":"black","titleAngle":0,"titleAlign":"left","titleBaseline":"alphabetic","titleX":394,"titleY":158}},
 "y":{"field":"y","type":"quantitative","scale":{"type":"log","domain":[5.13e-10,60.2],"nice":false},
   "axis":{"orient":"right","values":[6e-10,8e-10,1e-9,2e-9,4e-9,6e-9,8e-9,1e-8,2e-8,4e-8,6e-8,8e-8,1e-7,2e-7,4e-7,6e-7,8e-7,1e-6,2e-6,4e-6,6e-6,8e-6,1e-5,2e-5,4e-5,6e-5,8e-5,1e-4,2e-4,4e-4,6e-4,8e-4,0.001,0.002,0.004,0.006,0.008,0.01,0.02,0.04,0.06,0.08,0.1,0.2,0.4,0.6,0.8,1,2,4,6,8,10,20,40],
   "labels":false,"ticks":true,"tickSize":{"condition":{"test":"abs(log(datum.value)/LN10 - round(log(datum.value)/LN10)) < 0.01","value":-19},"value":-10},"tickWidth":2,"tickColor":"black","domain":false,"grid":false,"title":null}}}},

{"data":{"name":"redline"},"mark":{"type":"point","opacity":0},
 "encoding":{"x":{"field":"x","type":"quantitative","scale":{"domain":[0,15],"nice":false,"zero":false},"axis":null},
 "y":{"field":"y","type":"quantitative","scale":{"type":"log","domain":[5.13e-10,60.2],"nice":false},
   "axis":{"orient":"left","labels":false,"ticks":false,"domain":false,"grid":false,"title":"1","titleFont":"DejaVu Sans Condensed","titleFontSize":60,"titleFontWeight":"normal","titleColor":"black","titleAngle":270,"titleAlign":"center","titleBaseline":"alphabetic","titleX":-258,"titleY":1000}}}},
{"data":{"name":"redline"},"mark":{"type":"point","opacity":0},
 "encoding":{"x":{"field":"x","type":"quantitative","scale":{"domain":[0,15],"nice":false,"zero":false},"axis":null},
 "y":{"field":"y","type":"quantitative","scale":{"type":"log","domain":[5.13e-10,60.2],"nice":false},
   "axis":{"orient":"left","labels":false,"ticks":false,"domain":false,"grid":false,"title":"——","titleFont":"DejaVu Sans","titleFontSize":46,"titleFontWeight":"bold","titleColor":"black","titleAngle":270,"titleAlign":"center","titleBaseline":"middle","titleX":-225,"titleY":999}}}},
{"data":{"name":"redline"},"mark":{"type":"point","opacity":0},
 "encoding":{"x":{"field":"x","type":"quantitative","scale":{"domain":[0,15],"nice":false,"zero":false},"axis":null},
 "y":{"field":"y","type":"quantitative","scale":{"type":"log","domain":[5.13e-10,60.2],"nice":false},
   "axis":{"orient":"left","labels":false,"ticks":false,"domain":false,"grid":false,"title":"2πp","titleFont":"DejaVu Sans Condensed","titleFontSize":44,"titleFontWeight":"normal","titleColor":"black","titleAngle":270,"titleAlign":"center","titleBaseline":"alphabetic","titleX":-191,"titleY":1010}}}},
{"data":{"name":"redline"},"mark":{"type":"point","opacity":0},
 "encoding":{"x":{"field":"x","type":"quantitative","scale":{"domain":[0,15],"nice":false,"zero":false},"axis":null},
 "y":{"field":"y","type":"quantitative","scale":{"type":"log","domain":[5.13e-10,60.2],"nice":false},
   "axis":{"orient":"left","labels":false,"ticks":false,"domain":false,"grid":false,"title":"T","titleFont":"DejaVu Sans Condensed","titleFontSize":28,"titleFontWeight":"normal","titleColor":"black","titleAngle":270,"titleAlign":"center","titleBaseline":"alphabetic","titleX":-181,"titleY":964}}}},
{"data":{"name":"redline"},"mark":{"type":"point","opacity":0},
 "encoding":{"x":{"field":"x","type":"quantitative","scale":{"domain":[0,15],"nice":false,"zero":false},"axis":null},
 "y":{"field":"y","type":"quantitative","scale":{"type":"log","domain":[5.13e-10,60.2],"nice":false},
   "axis":{"orient":"left","labels":false,"ticks":false,"domain":false,"grid":false,"title":"d²N","titleFont":"DejaVu Sans Condensed","titleFontSize":58,"titleFontWeight":"normal","titleColor":"black","titleAngle":270,"titleAlign":"center","titleBaseline":"alphabetic","titleX":-233,"titleY":888}}}},
{"data":{"name":"redline"},"mark":{"type":"point","opacity":0},
 "encoding":{"x":{"field":"x","type":"quantitative","scale":{"domain":[0,15],"nice":false,"zero":false},"axis":null},
 "y":{"field":"y","type":"quantitative","scale":{"type":"log","domain":[5.13e-10,60.2],"nice":false},
   "axis":{"orient":"left","labels":false,"ticks":false,"domain":false,"grid":false,"title":"———","titleFont":"DejaVu Sans","titleFontSize":46,"titleFontWeight":"bold","titleColor":"black","titleAngle":270,"titleAlign":"center","titleBaseline":"middle","titleX":-225,"titleY":875}}}},
{"data":{"name":"redline"},"mark":{"type":"point","opacity":0},
 "encoding":{"x":{"field":"x","type":"quantitative","scale":{"domain":[0,15],"nice":false,"zero":false},"axis":null},
 "y":{"field":"y","type":"quantitative","scale":{"type":"log","domain":[5.13e-10,60.2],"nice":false},
   "axis":{"orient":"left","labels":false,"ticks":false,"domain":false,"grid":false,"title":"dp","titleFont":"DejaVu Sans Condensed","titleFontSize":44,"titleFontWeight":"normal","titleColor":"black","titleAngle":270,"titleAlign":"center","titleBaseline":"alphabetic","titleX":-191,"titleY":918}}}},
{"data":{"name":"redline"},"mark":{"type":"point","opacity":0},
 "encoding":{"x":{"field":"x","type":"quantitative","scale":{"domain":[0,15],"nice":false,"zero":false},"axis":null},
 "y":{"field":"y","type":"quantitative","scale":{"type":"log","domain":[5.13e-10,60.2],"nice":false},
   "axis":{"orient":"left","labels":false,"ticks":false,"domain":false,"grid":false,"title":"T","titleFont":"DejaVu Sans Condensed","titleFontSize":28,"titleFontWeight":"normal","titleColor":"black","titleAngle":270,"titleAlign":"center","titleBaseline":"alphabetic","titleX":-181,"titleY":885}}}},
{"data":{"name":"redline"},"mark":{"type":"point","opacity":0},
 "encoding":{"x":{"field":"x","type":"quantitative","scale":{"domain":[0,15],"nice":false,"zero":false},"axis":null},
 "y":{"field":"y","type":"quantitative","scale":{"type":"log","domain":[5.13e-10,60.2],"nice":false},
   "axis":{"orient":"left","labels":false,"ticks":false,"domain":false,"grid":false,"title":"dy","titleFont":"DejaVu Sans Condensed","titleFontSize":44,"titleFontWeight":"normal","titleColor":"black","titleAngle":270,"titleAlign":"center","titleBaseline":"alphabetic","titleX":-191,"titleY":840}}}},
{"data":{"name":"redline"},"mark":{"type":"point","opacity":0},
 "encoding":{"x":{"field":"x","type":"quantitative","scale":{"domain":[0,15],"nice":false,"zero":false},"axis":null},
 "y":{"field":"y","type":"quantitative","scale":{"type":"log","domain":[5.13e-10,60.2],"nice":false},
   "axis":{"orient":"left","labels":false,"ticks":false,"domain":false,"grid":false,"title":"[(GeV / c)⁻²]","titleFont":"DejaVu Sans","titleFontSize":84,"titleFontWeight":"normal","titleColor":"black","titleAngle":270,"titleAlign":"center","titleBaseline":"alphabetic","titleX":-223,"titleY":513}}}}
]
}
